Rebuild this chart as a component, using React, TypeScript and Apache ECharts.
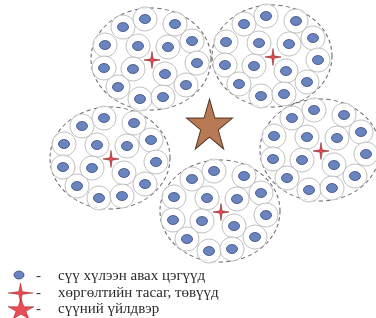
import React, { useEffect, useRef } from "react";
import * as echarts from "echarts";

// Centres of the five collection-point clusters (where the cooling station sits)
const clusterCentres: number[][] = [
  [152, 60],
  [273, 57],
  [111, 159],
  [221, 212],
  [321, 151],
];

// Offsets of the 15 collection points inside each cluster
const cellOffsets: number[][] = [
  [-29, -33], [-7, -41], [23, -36],
  [-47, -15], [-14, -14], [16, -13], [40, -19],
  [-48, 8], [-19, 9], [13, 14], [45, 3],
  [-34, 27], [-12, 39], [11, 37], [34, 25],
];

// Milk factory
const factory: number[][] = [[209.5, 124]];

const legendLabels: string[] = [
  "сүү хүлээн авах цэгүүд",
  "хөргөлтийн тасаг, төвүүд",
  "сүүний үйлдвэр",
];

const STAR4 = "path://M50 0 L57 43 L100 50 L57 57 L50 100 L43 57 L0 50 L43 43 Z";
const STAR5 =
  "path://M50 0 L61.23 34.55 L97.55 34.55 L68.17 55.9 L79.39 90.45 L50 69.1 L20.61 90.45 L31.83 55.9 L2.45 34.55 L38.77 34.55 Z";

export default function App() {
  const ref = useRef<HTMLDivElement>(null);
  useEffect(() => {
    const chart = echarts.init(ref.current!, null, { renderer: "svg" });
    const cells: number[][] = [];
    clusterCentres.forEach(([cx, cy]) =>
      cellOffsets.forEach(([dx, dy]) => cells.push([cx + dx, cy + dy]))
    );
    const rowY = [275, 292, 308];
    const legendX = 20;
    chart.setOption({
      animation: false,
      grid: { left: 0, right: 0, top: 0, bottom: 0 },
      xAxis: { type: "value", min: 0, max: 376, show: false },
      yAxis: { type: "value", min: 0, max: 318, inverse: true, show: false },
      series: [
        {
          type: "scatter",
          silent: true,
          symbol: "circle",
          symbolSize: [120, 102],
          data: clusterCentres.map(([x, y]) => [x - 1, y - 1]),
          itemStyle: {
            color: "rgba(0,0,0,0)",
            borderColor: "#444",
            borderWidth: 1,
            borderType: [4, 3],
          },
          z: 1,
        },
        {
          type: "scatter",
          silent: true,
          symbol: "circle",
          symbolSize: 24,
          data: cells,
          itemStyle: { color: "#fff", borderColor: "#b0b0b0", borderWidth: 1 },
          z: 2,
        },
        {
          type: "scatter",
          silent: true,
          symbol: "circle",
          symbolSize: [11, 9],
          data: cells,
          itemStyle: { color: "#4565b0", borderColor: "#1d2f66", borderWidth: 0.8 },
          z: 3,
        },
        {
          type: "scatter",
          silent: true,
          symbol: STAR4,
          symbolSize: [16, 17],
          data: clusterCentres,
          itemStyle: { color: "#e3212b", borderColor: "#5a0a0a", borderWidth: 0.6 },
          z: 4,
        },
        {
          type: "scatter",
          silent: true,
          symbol: STAR5,
          symbolSize: [46, 50],
          data: factory,
          itemStyle: { color: "#a5592a", borderColor: "#2e1608", borderWidth: 1 },
          z: 4,
        },
        {
          type: "scatter",
          silent: true,
          symbol: "circle",
          symbolSize: [10, 8],
          data: [[legendX - 1, rowY[0]]],
          itemStyle: { color: "#4565b0", borderColor: "#1d2f66", borderWidth: 0.8 },
          z: 5,
        },
        {
          type: "scatter",
          silent: true,
          symbol: STAR4,
          symbolSize: [25, 20],
          data: [[legendX + 0.5, rowY[1] + 1]],
          itemStyle: { color: "#e3212b", borderColor: "#8a1010", borderWidth: 0.5 },
          z: 5,
        },
        {
          type: "scatter",
          silent: true,
          symbol: STAR5,
          symbolSize: [26, 20],
          data: [[legendX + 1, rowY[2] + 1]],
          itemStyle: { color: "#e3212b", borderColor: "#8a1010", borderWidth: 0.5 },
          z: 5,
        },
      ],
      graphic: legendLabels.flatMap((label, i) => [
        {
          type: "text",
          x: 36,
          y: rowY[i],
          style: {
            text: "-",
            font: '15px "Liberation Serif"',
            fill: "#333",
            verticalAlign: "middle",
          },
        },
        {
          type: "text",
          x: 58,
          y: rowY[i],
          style: {
            text: label,
            font: '15px "Liberation Serif"',
            fill: "#2a2a2a",
            verticalAlign: "middle",
          },
        },
      ]),
    });
    return () => chart.dispose();
  }, []);
  return (
    <div
      ref={ref}
      style={{ position: "fixed", left: 0, top: 0, width: 376, height: 318 }}
    />
  );
}
